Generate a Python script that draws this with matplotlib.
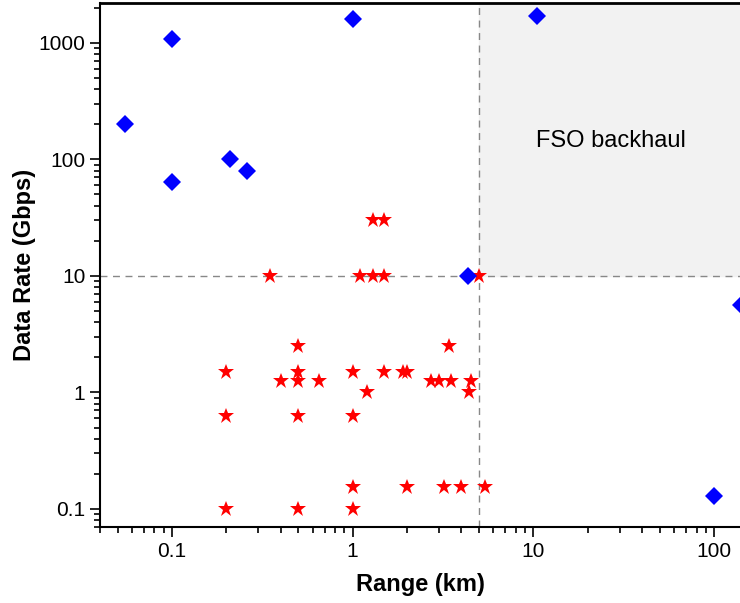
import matplotlib
matplotlib.use("Agg")
import matplotlib.pyplot as plt
from matplotlib.ticker import LogLocator, FuncFormatter, NullFormatter

plt.rcParams['font.family'] = ['Liberation Sans', 'DejaVu Sans']

# Blue diamonds
diamond_range = [0.055, 0.1, 0.1, 0.21, 0.26, 1.0, 10.5, 4.35, 100, 140]
diamond_rate = [200, 1080, 64, 100, 80, 1600, 1700, 10, 0.13, 5.6]

# Red stars
star_range = [0.35, 1.3, 1.5, 1.1, 1.3, 1.5, 5.0,
              0.2, 0.5, 1.0, 1.5, 1.9, 2.0,
              0.5, 3.4,
              0.4, 0.5, 0.65, 2.7, 3.0, 3.5, 4.5,
              1.2, 4.4,
              0.2, 0.5, 1.0,
              1.0, 2.0, 3.2, 4.0, 5.4,
              0.2, 0.5, 1.0]
star_rate = [10, 30, 30, 10, 10, 10, 10,
             1.5, 1.5, 1.5, 1.5, 1.5, 1.5,
             2.5, 2.5,
             1.25, 1.25, 1.25, 1.25, 1.25, 1.25, 1.25,
             1.0, 1.0,
             0.63, 0.63, 0.63,
             0.155, 0.155, 0.155, 0.155, 0.155,
             0.1, 0.1, 0.1]

x_min, x_max = 0.04, 139
y_min, y_max = 0.07, 2200
fso_x, fso_y = 5, 10

fig = plt.figure(figsize=(7.4, 6.03), dpi=100)
ax = fig.add_axes([100 / 740, 76 / 603, 640 / 740, 524 / 603])

ax.set_xscale("log")
ax.set_yscale("log")
ax.set_xlim(x_min, x_max)
ax.set_ylim(y_min, y_max)

# FSO backhaul region
ax.fill_between([fso_x, x_max], fso_y, y_max, color="#f2f2f2", zorder=0)
ax.axhline(fso_y, color="#888888", linestyle=(0, (5, 4)), linewidth=1, zorder=1)
ax.axvline(fso_x, color="#888888", linestyle=(0, (5, 4)), linewidth=1, zorder=1)
ax.text(26.7, 143, "FSO backhaul", fontsize=17, ha="center", va="center")

ax.plot(star_range, star_rate, linestyle="none", marker="*", color="red",
        markersize=12, markeredgewidth=0, zorder=3)
ax.plot(diamond_range, diamond_rate, linestyle="none", marker="D", color="blue",
        markersize=9, markeredgewidth=0, zorder=4)

ax.spines["right"].set_visible(False)
ax.spines["top"].set_linewidth(2)
ax.spines["left"].set_linewidth(1.5)
ax.spines["bottom"].set_linewidth(1.5)

ax.xaxis.set_major_locator(LogLocator(base=10, numticks=10))
ax.yaxis.set_major_locator(LogLocator(base=10, numticks=10))
ax.xaxis.set_minor_locator(LogLocator(base=10, subs=range(2, 10), numticks=20))
ax.yaxis.set_minor_locator(LogLocator(base=10, subs=range(2, 10), numticks=20))
fmt = FuncFormatter(lambda v, p: f"{v:g}")
ax.xaxis.set_major_formatter(fmt)
ax.yaxis.set_major_formatter(fmt)
ax.xaxis.set_minor_formatter(NullFormatter())
ax.yaxis.set_minor_formatter(NullFormatter())

ax.tick_params(which="both", direction="out", top=False, right=False,
               width=1.2, labelsize=15)
ax.tick_params(which="major", length=7)
ax.tick_params(which="minor", length=4)

ax.set_xlabel("Range (km)", fontsize=17, fontweight="bold", labelpad=9)
ax.set_ylabel("Data Rate (Gbps)", fontsize=17, fontweight="bold", labelpad=2)

plt.savefig("out.png", dpi=100)
